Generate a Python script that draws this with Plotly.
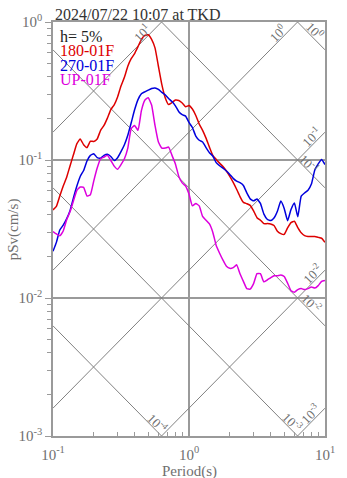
import math
import plotly.graph_objects as go

# Natural periods (s)
periods = [
    0.1, 0.1059, 0.1122, 0.1189, 0.1259, 0.1334, 0.1413, 0.1496, 0.1585, 0.1679,
    0.1778, 0.1884, 0.1995, 0.2113, 0.2239, 0.2371, 0.2512, 0.2661, 0.2818, 0.2985,
    0.3162, 0.335, 0.3548, 0.3758, 0.3981, 0.4217, 0.4467, 0.4732, 0.5012, 0.5309,
    0.5623, 0.5957, 0.631, 0.6683, 0.7079, 0.7499, 0.7943, 0.8414, 0.8913, 0.9441,
    1.0, 1.059, 1.122, 1.189, 1.259, 1.334, 1.413, 1.496, 1.585, 1.679,
    1.778, 1.884, 1.995, 2.113, 2.239, 2.371, 2.512, 2.661, 2.818, 2.985,
    3.162, 3.35, 3.548, 3.758, 3.981, 4.217, 4.467, 4.732, 5.012, 5.309,
    5.623, 5.957, 6.31, 6.683, 7.079, 7.499, 7.943, 8.414, 8.913, 9.441,
    10.0,
]

# Pseudo velocity response, h = 5 % (cm/s)
sv_180 = [
    0.0435, 0.0461, 0.0548, 0.0648, 0.0748, 0.0906, 0.109, 0.131, 0.142, 0.129,
    0.123, 0.137, 0.136, 0.142, 0.164, 0.178, 0.201, 0.232, 0.251, 0.286,
    0.344, 0.397, 0.478, 0.542, 0.591, 0.663, 0.747, 0.799, 0.808, 0.749,
    0.649, 0.478, 0.353, 0.283, 0.252, 0.261, 0.272, 0.270, 0.259, 0.243,
    0.248, 0.234, 0.210, 0.182, 0.164, 0.144, 0.124, 0.108, 0.101, 0.0949,
    0.0897, 0.0833, 0.0762, 0.0689, 0.0614, 0.0543, 0.0493, 0.0482, 0.0469, 0.0428,
    0.0382, 0.0366, 0.0346, 0.0346, 0.0344, 0.0335, 0.0305, 0.0293, 0.0289, 0.0322,
    0.0352, 0.0360, 0.0324, 0.0297, 0.0283, 0.0279, 0.0279, 0.0279, 0.0275, 0.0271,
    0.0253,
]
sv_270 = [
    0.0218, 0.0253, 0.0311, 0.0337, 0.0374, 0.0429, 0.0530, 0.0645, 0.0760, 0.0839,
    0.0984, 0.108, 0.111, 0.104, 0.103, 0.108, 0.110, 0.106, 0.0992, 0.104,
    0.115, 0.129, 0.151, 0.186, 0.231, 0.274, 0.302, 0.312, 0.321, 0.330,
    0.333, 0.325, 0.309, 0.297, 0.279, 0.265, 0.247, 0.224, 0.213, 0.208,
    0.187, 0.172, 0.149, 0.139, 0.135, 0.123, 0.113, 0.107, 0.0957, 0.0909,
    0.0871, 0.0832, 0.0786, 0.0736, 0.0703, 0.0685, 0.0654, 0.0578, 0.0523, 0.0506,
    0.0521, 0.0485, 0.0407, 0.0372, 0.0364, 0.0380, 0.0425, 0.0504, 0.0446, 0.0363,
    0.0438, 0.0488, 0.0388, 0.0548, 0.0577, 0.0603, 0.0669, 0.0846, 0.0937, 0.101,
    0.0926,
]
sv_up = [
    0.0303, 0.0291, 0.0282, 0.0306, 0.0368, 0.0421, 0.0504, 0.0601, 0.0637, 0.0634,
    0.0548, 0.0561, 0.0706, 0.0874, 0.102, 0.105, 0.108, 0.0992, 0.0903, 0.0857,
    0.0926, 0.102, 0.122, 0.169, 0.178, 0.164, 0.228, 0.271, 0.283, 0.250,
    0.178, 0.135, 0.122, 0.122, 0.124, 0.108, 0.0937, 0.0760, 0.0683, 0.0648,
    0.0566, 0.0465, 0.0484, 0.0465, 0.0390, 0.0366, 0.0344, 0.0300, 0.0240, 0.0211,
    0.0188, 0.0170, 0.0164, 0.0166, 0.0174, 0.0150, 0.0132, 0.0117, 0.0116, 0.0127,
    0.0150, 0.0150, 0.0131, 0.0135, 0.0140, 0.0145, 0.0145, 0.0147, 0.0143, 0.0128,
    0.0113, 0.0110, 0.0115, 0.0117, 0.0115, 0.0117, 0.0120, 0.0118, 0.0123, 0.0132,
    0.0134,
]

series_names = ["180-01F", "270-01F", "UP-01F"]
series_colors = ["#dd0000", "#0000dd", "#dd00dd"]

# Tripartite guide lines: displacement (cm) and acceleration (cm/s^2)
disp_levels = [1, 0.1, 0.01, 0.001, 0.0001]
disp_label_T = [7.78, 7.18, 7.40, 5.37, 0.546]
acc_levels = [10, 1, 0.1, 0.01, 0.001]
acc_label_T = [0.491, 4.83, 8.65, 8.8, 8.51]

FONT = "Liberation Serif"
AXIS_GRAY = "#9a9a9a"
DIAG_GRAY = "#808080"
TEXT_GRAY = "#707070"


def sup_label(v):
    e = int(round(math.log10(v)))
    return "10<sup>%d</sup>" % e


fig = go.Figure()

t_ends = [0.1, 10.0]
for d in disp_levels:
    fig.add_trace(go.Scatter(
        x=t_ends, y=[2 * math.pi * d / t for t in t_ends], mode="lines",
        line=dict(color=DIAG_GRAY, width=1), hoverinfo="skip", showlegend=False))
for a in acc_levels:
    fig.add_trace(go.Scatter(
        x=t_ends, y=[a * t / (2 * math.pi) for t in t_ends], mode="lines",
        line=dict(color=DIAG_GRAY, width=1), hoverinfo="skip", showlegend=False))

for name, sv, color in zip(series_names, [sv_180, sv_270, sv_up], series_colors):
    fig.add_trace(go.Scatter(
        x=periods, y=sv, mode="lines", name=name,
        line=dict(color=color, width=1.5, shape="spline", smoothing=0.4),
        showlegend=False))

annotations = []
off = 4.5
for d, t in zip(disp_levels, disp_label_T):
    annotations.append(dict(
        x=math.log10(t), y=math.log10(2 * math.pi * d / t), xref="x", yref="y",
        text=sup_label(d), textangle=45, showarrow=False,
        xshift=off, yshift=off, font=dict(family=FONT, size=13, color=TEXT_GRAY)))
for a, t in zip(acc_levels, acc_label_T):
    annotations.append(dict(
        x=math.log10(t), y=math.log10(a * t / (2 * math.pi)), xref="x", yref="y",
        text=sup_label(a), textangle=-45, showarrow=False,
        xshift=-off, yshift=off, font=dict(family=FONT, size=13, color=TEXT_GRAY)))

# Legend block
legend_rows = [("h= 5%", "#222222")] + list(zip(series_names, series_colors))
legend_y = [0.964, 0.931, 0.894, 0.862]
for (txt, col), yy in zip(legend_rows, legend_y):
    annotations.append(dict(
        x=0.018, y=yy, xref="paper", yref="paper", text=txt, showarrow=False,
        xanchor="left", yanchor="middle", font=dict(family=FONT, size=16, color=col)))

annotations.append(dict(
    x=0, y=1.019, xref="paper", yref="paper", text="2024/07/22 10:07 at TKD",
    showarrow=False, xanchor="left", yanchor="middle",
    font=dict(family=FONT, size=16, color="#333333")))
annotations.append(dict(
    x=0.5, y=-0.086, xref="paper", yref="paper", text="Period(s)",
    showarrow=False, xanchor="center", yanchor="middle",
    font=dict(family=FONT, size=15, color=TEXT_GRAY)))
annotations.append(dict(
    x=-0.146, y=0.5, xref="paper", yref="paper", text="pSv(cm/s)", textangle=-90,
    showarrow=False, xanchor="center", yanchor="middle",
    font=dict(family=FONT, size=15, color=TEXT_GRAY)))

x_major = [0.1, 1, 10]
y_major = [0.001, 0.01, 0.1, 1]
x_minor = [m * 10 ** e for e in (-1, 0) for m in range(2, 10)]
y_minor = [m * 10 ** e for e in (-3, -2, -1) for m in range(2, 10)]

fig.update_xaxes(
    type="log", range=[-1, 1], tickmode="array", tickvals=x_major,
    ticktext=[sup_label(v) for v in x_major],
    showgrid=True, gridcolor=AXIS_GRAY, gridwidth=1.5,
    showline=True, mirror=True, linecolor=AXIS_GRAY, linewidth=1.5,
    ticks="inside", ticklen=6, tickcolor=AXIS_GRAY, ticklabelstandoff=4,
    minor=dict(tickvals=x_minor, ticks="inside", ticklen=4, tickcolor=AXIS_GRAY, showgrid=False),
    tickfont=dict(family=FONT, size=15, color=TEXT_GRAY), zeroline=False)
fig.update_yaxes(
    type="log", range=[-3, 0], tickmode="array", tickvals=y_major,
    ticktext=[sup_label(v) for v in y_major],
    showgrid=True, gridcolor=AXIS_GRAY, gridwidth=1.5,
    showline=True, mirror=True, linecolor=AXIS_GRAY, linewidth=1.5,
    ticks="outside", ticklen=6, tickcolor=AXIS_GRAY,
    minor=dict(tickvals=y_minor, ticks="outside", ticklen=4, tickcolor=AXIS_GRAY, showgrid=False),
    tickfont=dict(family=FONT, size=15, color=TEXT_GRAY), zeroline=False)

fig.update_layout(
    width=347, height=478,
    margin=dict(l=53, r=14, t=15, b=42),
    paper_bgcolor="white", plot_bgcolor="white",
    annotations=annotations, showlegend=False,
)

fig.write_html("out.html")
